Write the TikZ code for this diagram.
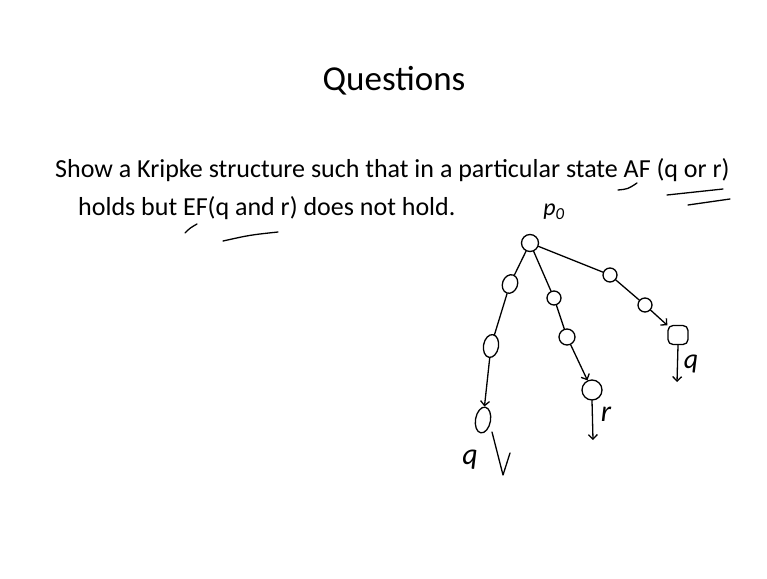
\documentclass[tikz,border=0pt]{standalone}
\usepackage{fontspec}
\setmainfont{Carlito}
\usetikzlibrary{arrows.meta, positioning, shapes.geometric}

\begin{document}
\begin{tikzpicture}[x=1pt, y=-1pt,
  pen/.style={line width=1.3pt, line cap=round, line join=round},
  kstate/.style={draw, pen, circle, inner sep=0pt, minimum size=#1},
  koval/.style={draw, pen, ellipse, inner sep=0pt, minimum width=15pt, minimum height=#1},
  trans/.style={pen, -{Straight Barb[length=4.5pt]}},
  hand/.style={font=\fontsize{24}{24}\selectfont\itshape, inner sep=0pt},
  slide/.style={anchor=base west, inner sep=0pt, font=\fontsize{26}{26}\selectfont}]
\useasboundingbox (0,0) rectangle (767,578);
\fill[white] (0,0) rectangle (767,578);

% title and question
\node[anchor=base, inner sep=0pt, font=\fontsize{35}{35}\selectfont] (title) at (394,90) {Questions};
\node[slide] (line1) at (55,177) {Show a Kripke structure such that in a particular state AF (q or r)};
\node[slide] (line2) at (78,215) {holds but EF(q and r) does not hold.};

% pen marks under the formulas
\draw[pen] (618,190) .. controls (628,189) .. (637,183);
\draw[pen] (667,195) -- (723,189);
\draw[pen] (688,205) -- (730,199);
\draw[pen] (185,233) .. controls (190,228) .. (197,224);
\draw[pen] (223,241) .. controls (250,235) .. (278,232);

% Kripke tree
\node[kstate=17pt] (p0) at (530,243) {};
\node[hand] (p0lab) at (554,212) {p\textsubscript{0}};

\node[koval=19pt, rotate=-20] (a1) at (510,284) {};
\node[koval=23pt, rotate=-10] (a2) at (491,346) {};
\node[koval=26pt, rotate=-10] (a3) at (483,420) {};

\node[kstate=14pt] (b1) at (554,298) {};
\node[kstate=16pt] (b2) at (567,337) {};
\node[kstate=20pt] (b3) at (592,390) {};

\node[kstate=14pt] (c1) at (610,275) {};
\node[kstate=14pt] (c2) at (645,305) {};
\node[draw, pen, rounded corners=5pt, inner sep=0pt, minimum width=20pt, minimum height=19pt] (c3) at (678,335) {};

\foreach \a/\b in {p0/a1, a1/a2, p0/b1, b1/b2, p0/c1, c1/c2}
  \draw[pen] (\a) -- (\b);
\foreach \a/\b in {a2/a3, b2/b3, c2/c3}
  \draw[trans] (\a) -- (\b);

% paths running on
\coordinate (b3end) at (593,440);
\coordinate (c3end) at (677,382);
\draw[trans] (b3.south) -- (b3end);
\draw[trans] (c3.south) -- (c3end);

\node[hand, font=\fontsize{30}{30}\selectfont\itshape] (rlab) at (606,414) {r};
\node[hand, font=\fontsize{28}{28}\selectfont\itshape] (qlab) at (691,364) {q};
\node[hand, font=\fontsize{30}{30}\selectfont\itshape] (qleft) at (470,460) {q};
\draw[pen] (492,432) -- (503,475) -- (510,453);
\end{tikzpicture}
\end{document}
